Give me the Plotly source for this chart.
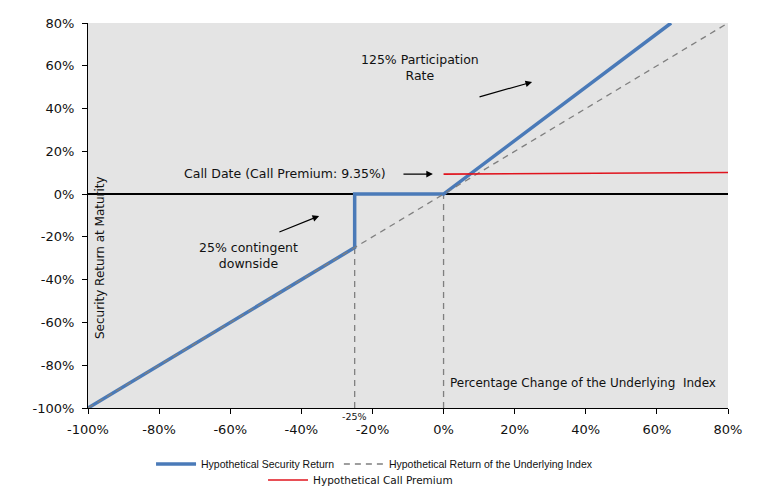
import plotly.graph_objects as go

# ---- data ----
underlying_x = [-100, 80]
underlying_y = [-100, 80]
security_x = [-100, -25, -25, 0, 64]
security_y = [-100, -25, 0, 0, 80]
call_x = [0, 80]
call_y = [9.35, 10.1]
barrier = -25
strike = 0
tick_vals = [-100, -80, -60, -40, -20, 0, 20, 40, 60, 80]
tick_text = ["-100%", "-80%", "-60%", "-40%", "-20%", "0%", "20%", "40%", "60%", "80%"]

FONT = "DejaVu Sans"
DASH = "6px,5px"

fig = go.Figure()
fig.add_trace(go.Scatter(x=security_x, y=security_y, mode="lines",
                         name="Hypothetical Security Return",
                         line=dict(color="#4a7ab8", width=3.5), legend="legend"))
fig.add_trace(go.Scatter(x=underlying_x, y=underlying_y, mode="lines",
                         name="Hypothetical Return of the Underlying Index",
                         line=dict(color="#7f7f7f", width=1.3, dash=DASH), legend="legend3"))
fig.add_trace(go.Scatter(x=call_x, y=call_y, mode="lines",
                         name="Hypothetical Call Premium",
                         line=dict(color="#e0141e", width=1.6), legend="legend2"))

# vertical dashed reference lines
fig.add_shape(type="line", x0=barrier, x1=barrier, y0=-100, y1=barrier,
              line=dict(color="#7f7f7f", width=1.3, dash=DASH), layer="below")
fig.add_shape(type="line", x0=strike, x1=strike, y0=-100, y1=0,
              line=dict(color="#7f7f7f", width=1.3, dash=DASH), layer="below")

leg_common = dict(orientation="h", xanchor="left", yanchor="middle",
                  bgcolor="rgba(0,0,0,0)", borderwidth=0, itemwidth=40)

fig.update_layout(
    width=773, height=493,
    margin=dict(l=80, r=53, t=15, b=93, autoexpand=False),
    paper_bgcolor="white", plot_bgcolor="#e4e4e4",
    font=dict(family=FONT, size=13, color="#111"),
    xaxis=dict(range=[-100, 80], tickvals=tick_vals, ticktext=tick_text,
               showgrid=False, zeroline=False, showline=True, linecolor="black",
               linewidth=1, ticks="outside", ticklen=5, tickcolor="black",
               ticklabelstandoff=4, automargin=False),
    yaxis=dict(range=[-100, 80], tickvals=tick_vals, ticktext=tick_text,
               showgrid=False, zeroline=True, zerolinecolor="black", zerolinewidth=2,
               showline=True, linecolor="black", linewidth=1, ticks="outside",
               ticklen=5, tickcolor="black", ticklabelstandoff=5, automargin=False),
    legend=dict(x=0.0985, y=-0.1455, font=dict(family="Liberation Sans", size=10.5, color="#111"),
                **leg_common),
    legend3=dict(x=0.392, y=-0.1455, font=dict(family="Liberation Sans", size=10.5, color="#111"),
                 **leg_common),
    legend2=dict(x=0.2735, y=-0.187, font=dict(family=FONT, size=10.5, color="#111"),
                 **leg_common),
    showlegend=True,
)

ann_font = dict(family=FONT, size=12.5, color="#111")
fig.add_annotation(x=-6.6, y=59, text="125% Participation<br>Rate", showarrow=False, font=ann_font)
fig.add_annotation(x=24.9, y=52.4, ax=9.7, ay=45.3, axref="x", ayref="y", text="",
                   showarrow=True, arrowhead=2, arrowsize=1.1, arrowwidth=1.2, arrowcolor="black")
fig.add_annotation(x=-44.5, y=9.6, text="Call Date (Call Premium: 9.35%)", showarrow=False, font=ann_font)
fig.add_annotation(x=-3, y=9.35, ax=-11.7, ay=9.35, axref="x", ayref="y", text="",
                   showarrow=True, arrowhead=2, arrowsize=1.1, arrowwidth=1.2, arrowcolor="black")
fig.add_annotation(x=-55, y=-28.8, text="25% contingent<br>downside", showarrow=False, font=ann_font)
fig.add_annotation(x=-35, y=-10.2, ax=-46.6, ay=-18, axref="x", ayref="y", text="",
                   showarrow=True, arrowhead=2, arrowsize=1.1, arrowwidth=1.2, arrowcolor="black")
fig.add_annotation(xref="paper", yref="paper", x=0.019, y=0.39, xanchor="center", yanchor="middle",
                   text="Security Return at Maturity",
                   textangle=-90, showarrow=False, font=dict(family=FONT, size=12, color="#111"))
fig.add_annotation(xref="paper", yref="paper", x=0.7735, y=0.065, xanchor="center", yanchor="middle",
                   text="Percentage Change of the Underlying  Index",
                   showarrow=False, font=dict(family=FONT, size=12, color="#111"))
fig.add_annotation(x=barrier, y=0, yref="paper", yanchor="top", yshift=-1, text="-25%",
                   showarrow=False, font=dict(family=FONT, size=9.5, color="#111"))

fig.write_html("out.html")
